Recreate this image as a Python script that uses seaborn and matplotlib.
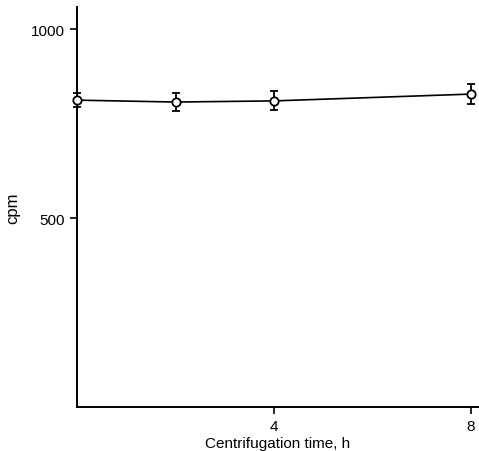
import seaborn as sns
import matplotlib.pyplot as plt
import pandas as pd

# data
time_h = [0, 2, 4, 8]
cpm = [812, 807, 810, 828]
cpm_err = [19, 24, 25, 26]

df = pd.DataFrame({"time": time_h, "cpm": cpm, "err": cpm_err})

sns.set_style("ticks")
plt.rcParams["font.family"] = ["Liberation Sans", "DejaVu Sans"]
plt.rcParams["text.color"] = "black"
plt.rcParams["axes.labelcolor"] = "black"

fig = plt.figure(figsize=(4.79, 4.52), dpi=100)
ax = fig.add_axes([0.161, 0.097, 0.837, 0.885])

ax.errorbar(df["time"], df["cpm"], yerr=df["err"], fmt="none",
            ecolor="black", elinewidth=1.3, capsize=3, capthick=1.3,
            zorder=2, clip_on=False)
sns.lineplot(data=df, x="time", y="cpm", ax=ax, color="black", linewidth=1.2,
             marker="o", markersize=6, markerfacecolor="white",
             markeredgecolor="black", markeredgewidth=1.3, zorder=3,
             clip_on=False)

ax.set_xlim(0, 8.15)
ax.set_ylim(0, 1058)
ax.set_xticks([4, 8])
ax.set_yticks([500, 1000])
ax.tick_params(labelsize=11, length=5, width=1.2, colors="black")
ax.set_xlabel("Centrifugation time, h", fontsize=11, labelpad=2, color="black")
ax.set_ylabel("cpm", fontsize=12, labelpad=8, color="black")
for s in ["top", "right"]:
    ax.spines[s].set_visible(False)
for s in ["left", "bottom"]:
    ax.spines[s].set_linewidth(1.4)
    ax.spines[s].set_color("black")

fig.savefig("out.png", dpi=100)
